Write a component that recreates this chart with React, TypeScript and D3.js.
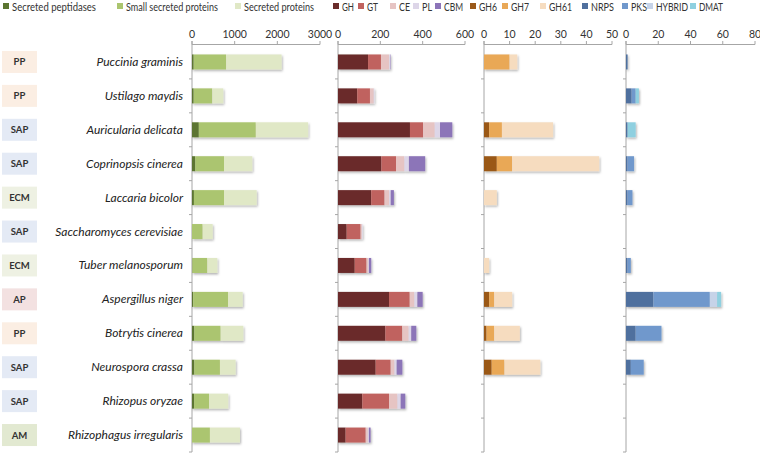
import React from "react";
import * as d3 from "d3";

const species = [
  "Puccinia graminis",
  "Ustilago maydis",
  "Auricularia delicata",
  "Coprinopsis cinerea",
  "Laccaria bicolor",
  "Saccharomyces cerevisiae",
  "Tuber melanosporum",
  "Aspergillus niger",
  "Botrytis cinerea",
  "Neurospora crassa",
  "Rhizopus oryzae",
  "Rhizophagus irregularis",
];
const lifestyles = ["PP", "PP", "SAP", "SAP", "ECM", "SAP", "ECM", "AP", "PP", "SAP", "SAP", "AM"];

// panel 1: secreted proteins
const secretedPeptidases = [40, 40, 160, 78, 45, 0, 10, 30, 55, 55, 50, 0];
const smallSecreted = [760, 436, 1336, 672, 705, 250, 350, 814, 617, 600, 350, 420];
const secretedProteins = [1300, 258, 1226, 664, 766, 235, 234, 344, 531, 368, 450, 705];

// panel 2: CAZymes
const gh = [142, 91, 340, 205, 157, 41, 79, 241, 224, 178, 115, 36];
const gt = [61, 60, 62, 69, 63, 66, 56, 98, 80, 71, 126, 95];
const ce = [39, 18, 55, 40, 22, 6, 8, 22, 30, 18, 40, 10];
const pl = [5, 3, 25, 21, 7, 3, 3, 14, 12, 10, 15, 5];
const cbm = [2, 0, 58, 77, 15, 0, 11, 25, 24, 27, 22, 8];

// panel 3: cellulases
const gh6 = [0, 0, 2, 5, 0, 0, 0, 2, 1, 3, 0, 0];
const gh7 = [10, 0, 5, 6, 0, 0, 0, 2, 3, 5, 0, 0];
const gh61 = [3, 0, 20, 34, 5, 0, 2, 7, 10, 14, 0, 0];

// panel 4: secondary metabolism
const nrps = [1, 3.5, 1, 1, 1, 0, 1, 17, 6, 3, 0, 0];
const pks = [0, 2.5, 0, 4, 3, 0, 2, 35, 16, 8, 0, 0];
const hybrid = [0, 0, 0, 0, 0, 0, 0, 4.5, 0, 0, 0, 0];
const dmat = [0, 2, 5, 0, 0, 0, 0, 2.5, 0, 0, 0, 0];

const lifestyleFill: Record<string, string> = {
  PP: "#fbeee3",
  SAP: "#e4eaf5",
  ECM: "#eef1e3",
  AP: "#f3e1e1",
  AM: "#e2e9d1",
};

const panels = [
  {
    x0: 192, x1: 320, max: 3000, ticks: [0, 1000, 2000, 3000],
    series: [
      { name: "Secreted peptidases", values: secretedPeptidases, color: "#5b7530" },
      { name: "Small secreted proteins", values: smallSecreted, color: "#abc56f" },
      { name: "Secreted proteins", values: secretedProteins, color: "#e0e8c6" },
    ],
  },
  {
    x0: 338, x1: 465, max: 600, ticks: [0, 200, 400, 600],
    series: [
      { name: "GH", values: gh, color: "#6a2c2b" },
      { name: "GT", values: gt, color: "#c0625e" },
      { name: "CE", values: ce, color: "#e6c4c3" },
      { name: "PL", values: pl, color: "#ddd6e8" },
      { name: "CBM", values: cbm, color: "#8c74b8" },
    ],
  },
  {
    x0: 484, x1: 612, max: 50, ticks: [0, 10, 20, 30, 40, 50],
    series: [
      { name: "GH6", values: gh6, color: "#9a5818" },
      { name: "GH7", values: gh7, color: "#e9a857" },
      { name: "GH61", values: gh61, color: "#f6dcbf" },
    ],
  },
  {
    x0: 626, x1: 755, max: 80, ticks: [0, 20, 40, 60, 80],
    series: [
      { name: "NRPS", values: nrps, color: "#50709e" },
      { name: "PKS", values: pks, color: "#7098cc" },
      { name: "HYBRID", values: hybrid, color: "#c6d3e8" },
      { name: "DMAT", values: dmat, color: "#8fd0e0" },
    ],
  },
];

// legend layout (marker x, text width) matched to the original
const legendX = [3, 117, 235, 333, 358, 390, 413, 435, 470, 502, 540, 582, 622, 647, 690];
const legendW = [84, 92, 70, 12, 11, 11, 10, 19, 18, 18, 23, 23, 16, 32, 24];

const font = "Lato, 'Open Sans', sans-serif";
const axisColor = "#a6a6a6";

export default function App() {
  const y = d3.scaleBand<string>().domain(species).range([45, 452]).padding(0);
  const barH = 15;
  const legendItems = panels.flatMap((p) => p.series);

  return (
    <svg width={760} height={454} style={{ position: "absolute", left: 0, top: 0, background: "#fff" }}>
      <defs>
        <filter id="shadow" x="-10%" y="-30%" width="130%" height="180%">
          <feDropShadow dx="1" dy="1.5" stdDeviation="0.8" floodColor="#000" floodOpacity="0.3" />
        </filter>
      </defs>

      {/* legend */}
      {legendItems.map((s, i) => (
        <g key={s.name} transform={`translate(${legendX[i]},0)`}>
          <rect x={0} y={3} width={6} height={6} fill={s.color} />
          <text x={9} y={10.5} fontSize={10.5} fontFamily={font} fill="#333"
            textLength={legendW[i]} lengthAdjust="spacingAndGlyphs">
            {s.name}
          </text>
        </g>
      ))}

      {/* row labels */}
      {species.map((sp, i) => {
        const cy = (y(sp) ?? 0) + y.bandwidth() / 2;
        return (
          <g key={sp}>
            <rect x={2} y={cy - 11} width={35} height={22} fill={lifestyleFill[lifestyles[i]]} />
            <text x={19.5} y={cy + 3.5} textAnchor="middle" fontSize={9.5} fontWeight="bold"
              fontFamily={font} fill="#333">
              {lifestyles[i]}
            </text>
            <text x={183} y={cy + 4} textAnchor="end" fontSize={12} fontStyle="italic"
              fontFamily={font} fill="#222">
              {sp}
            </text>
          </g>
        );
      })}

      {panels.map((p, pi) => {
        const x = d3.scaleLinear().domain([0, p.max]).range([p.x0, p.x1]);
        const rows = species.map((_, i) => {
          const r: Record<string, number> = {};
          p.series.forEach((s) => (r[s.name] = s.values[i]));
          return r;
        });
        const stacked = d3.stack<Record<string, number>>().keys(p.series.map((s) => s.name))(rows);
        return (
          <g key={pi}>
            {/* top axis */}
            <line x1={p.x0} x2={p.x1} y1={44.5} y2={44.5} stroke={axisColor} />
            {p.ticks.map((t) => (
              <g key={t}>
                <line x1={x(t)} x2={x(t)} y1={41} y2={44.5} stroke={axisColor} />
                <text x={x(t)} y={38} textAnchor="middle" fontSize={10.5} fontFamily={font} fill="#333">
                  {t}
                </text>
              </g>
            ))}
            {/* category axis */}
            <line x1={p.x0} x2={p.x0} y1={41} y2={452} stroke={axisColor} />
            {species.map((sp) => (
              <line key={sp} x1={p.x0 - 3} x2={p.x0} y1={(y(sp) ?? 0) + y.bandwidth()}
                y2={(y(sp) ?? 0) + y.bandwidth()} stroke={axisColor} />
            ))}
            {/* bars */}
            <g filter="url(#shadow)">
              {stacked.map((layer, li) =>
                layer.map((d, i) =>
                  d[1] - d[0] > 0 ? (
                    <rect key={`${li}-${i}`} x={x(d[0])} width={x(d[1]) - x(d[0])}
                      y={(y(species[i]) ?? 0) + y.bandwidth() / 2 - barH / 2} height={barH}
                      fill={p.series[li].color} />
                  ) : null
                )
              )}
            </g>
          </g>
        );
      })}
    </svg>
  );
}
